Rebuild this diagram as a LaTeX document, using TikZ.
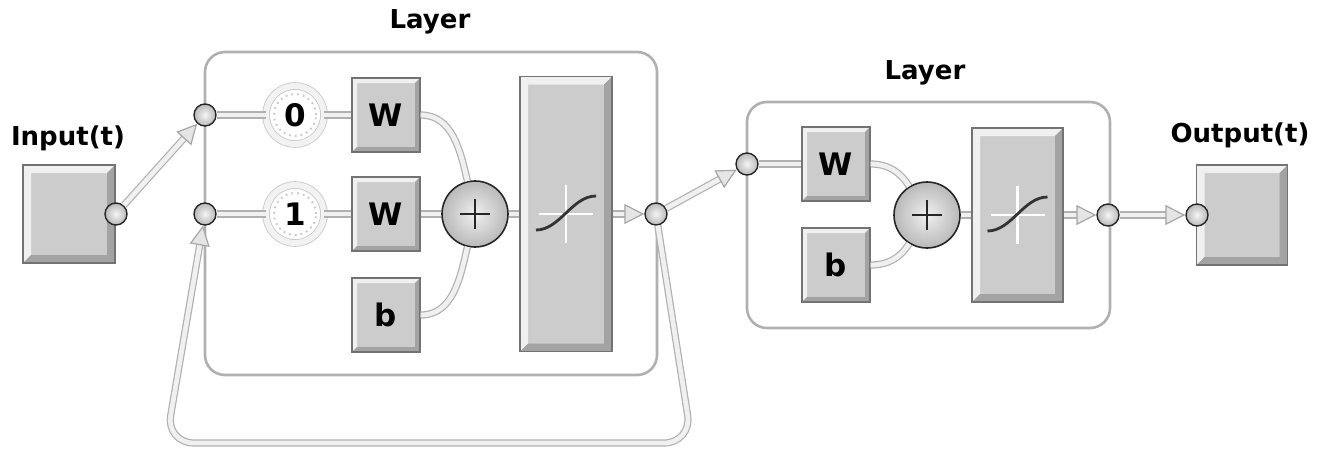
\documentclass[tikz,border=0pt]{standalone}
\usepackage{fontspec}
\setsansfont{DejaVu Sans}
\usetikzlibrary{arrows.meta,shadings}

\newcommand{\bevelfill}[1]{%
  \fill[gray!12] (path picture bounding box.south west) -- (path picture bounding box.north west)
    -- (path picture bounding box.north east) -- ([shift={(-#1,-#1)}]path picture bounding box.north east)
    -| ([shift={(#1,#1)}]path picture bounding box.south west) -- cycle;
  \fill[gray!72] (path picture bounding box.south west) -- (path picture bounding box.south east)
    -- (path picture bounding box.north east) -- ([shift={(-#1,-#1)}]path picture bounding box.north east)
    |- ([shift={(#1,#1)}]path picture bounding box.south west) -- cycle;}
\newcommand{\sigmoidmark}{%
  \draw[white, line width=1.2pt] ([yshift=-14.5pt]path picture bounding box.center) -- ([yshift=14.5pt]path picture bounding box.center);
  \draw[white, line width=1.2pt] ([xshift=-13.5pt]path picture bounding box.center) -- ([xshift=13.5pt]path picture bounding box.center);
  \draw[black!80, line width=1.4pt] ([shift={(-15pt,-8pt)}]path picture bounding box.center)
    .. controls ([shift={(-3pt,-8pt)}]path picture bounding box.center) and ([shift={(3pt,9pt)}]path picture bounding box.center)
    .. ([shift={(15pt,9pt)}]path picture bounding box.center);}
\newcommand{\lblfont}{\sffamily\bfseries\fontsize{13}{15}\selectfont}
\newcommand{\boxfont}{\sffamily\bfseries\fontsize{15.5}{17}\selectfont}

\begin{document}
\begin{tikzpicture}[
    x=0.5pt, y=0.5pt,
    layerbox/.style={draw=gray!62, line width=1.3pt, rounded corners=10pt},
    title/.style={font=\lblfont, inner sep=1pt},
    bevel/.style={draw=black!55, fill=gray!40, line width=0.6pt, inner sep=0pt,
                  path picture={\bevelfill{#1}}},
    bevel/.default=2.5pt,
    weight/.style={bevel, minimum width=34pt, minimum height=37pt, font=\boxfont},
    transfer/.style={draw=black!55, fill=gray!40, line width=0.6pt, inner sep=0pt,
                     minimum width=46pt, path picture={\bevelfill{4pt}\sigmoidmark}},
    delay/.style={circle, draw=gray!45, double=gray!10, double distance=3pt,
                  fill=white, minimum size=29pt, inner sep=0pt, font=\boxfont,
                  path picture={\draw[gray!45, dotted, line width=0.9pt]
                    (path picture bounding box.center) circle (10.5pt);}},
    sum/.style={circle, draw=black!85, line width=0.8pt, minimum size=33pt,
                inner sep=0pt, shading=radial, inner color=gray!12, outer color=gray!55,
                path picture={\draw[black!85, line width=1.3pt]
                  ([xshift=-7.5pt]path picture bounding box.center) -- ([xshift=7.5pt]path picture bounding box.center)
                  ([yshift=-7.5pt]path picture bounding box.center) -- ([yshift=7.5pt]path picture bounding box.center);}},
    port/.style={circle, draw=black!85, line width=0.7pt, inner sep=0pt,
                 minimum size=11pt, shading=radial, inner color=gray!8, outer color=gray!55},
    pipe/.style={draw=gray!62, double=gray!12, double distance=2.4pt, line width=0.6pt},
    tip/.style={-{Triangle[length=10pt, width=10pt, color=gray!70, fill=gray!20, line width=0.6pt]}}
  ]
    \useasboundingbox (0,0) rectangle (1327,457);

    \node[layerbox, minimum width=226pt, minimum height=161.5pt] (layer1) at (431,243.5) {};
    \node[layerbox, minimum width=181.5pt, minimum height=113pt] (layer2) at (928.5,242) {};
    \node[title] (title1)   at (430,435)  {Layer};
    \node[title] (title2)   at (925,384)  {Layer};
    \node[title] (inlabel)  at (68,319)   {Input(t)};
    \node[title] (outlabel) at (1240,322) {Output(t)};

    \node[bevel=4pt, minimum width=46pt, minimum height=49pt]   (inbox)  at (69,243)   {};
    \node[bevel=4pt, minimum width=45.5pt, minimum height=50pt] (outbox) at (1242,242) {};

    \node[delay]  (delay0) at (295,342) {0};
    \node[delay]  (delay1) at (295,243) {1};
    \node[weight] (w1)     at (386,342) {W};
    \node[weight] (w2)     at (386,243) {W};
    \node[weight] (b1)     at (386,142) {b};
    \node[sum]    (sum1)   at (475,243) {};
    \node[transfer, minimum height=137.5pt] (tf1) at (566,243) {};

    \node[weight] (w3)     at (836,293) {W};
    \node[weight] (b2)     at (836,192) {b};
    \node[sum]    (sum2)   at (927,242) {};
    \node[transfer, minimum width=45.5pt, minimum height=87pt] (tf2) at (1017.5,242) {};

    \node[port] (inport)  at (116,243)  {};
    \node[port] (in1a)    at (205,342)  {};
    \node[port] (in1b)    at (205,243)  {};
    \node[port] (out1)    at (656,243)  {};
    \node[port] (in2)     at (747,293)  {};
    \node[port] (out2)    at (1108,242) {};
    \node[port] (outport) at (1197,242) {};

    \coordinate (fbR) at (692,14);
    \coordinate (fbL) at (166,14);

    \draw[pipe] (in1a)   -- (delay0);
    \draw[pipe] (delay0) -- (w1);
    \draw[pipe] (in1b)   -- (delay1);
    \draw[pipe] (delay1) -- (w2);
    \draw[pipe] (w1.east) to[out=0, in=103] (sum1.103);
    \draw[pipe] (w2)     -- (sum1);
    \draw[pipe] (b1.east) to[out=0, in=-103] (sum1.-103);
    \draw[pipe] (sum1)   -- (tf1);
    \draw[pipe, tip] (tf1)    -- (out1);
    \draw[pipe, tip] (inport) -- (in1a);
    \draw[pipe, tip] (out1)   -- (in2);
    \draw[pipe, tip, rounded corners=14pt] (out1) -- (fbR) -- (fbL) -- (in1b);

    \draw[pipe] (in2)    -- (w3);
    \draw[pipe] (w3.east) to[out=0, in=122] (sum2.122);
    \draw[pipe] (b2.east) to[out=0, in=-122] (sum2.-122);
    \draw[pipe] (sum2)   -- (tf2);
    \draw[pipe, tip] (tf2)  -- (out2);
    \draw[pipe, tip] (out2) -- (outport);
  \end{tikzpicture}
\end{document}
